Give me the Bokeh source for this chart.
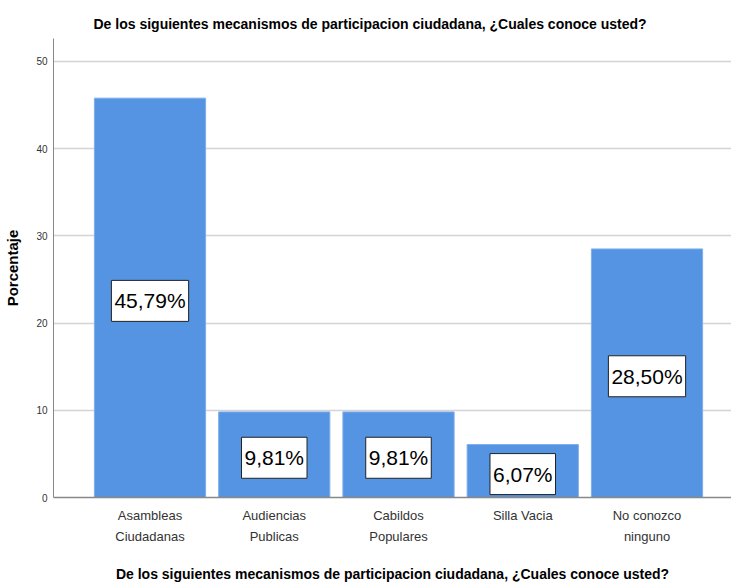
from bokeh.plotting import figure
from bokeh.models import ColumnDataSource, FixedTicker, Range1d
from bokeh.core.properties import value
from bokeh.embed import file_html
from bokeh.resources import INLINE

categories = ["Asambleas\nCiudadanas", "Audiencias\nPublicas", "Cabildos\nPopulares",
              "Silla Vacia", "No conozco\nninguno"]
values = [45.79, 9.81, 9.81, 6.07, 28.50]
label_texts = ["45,79%", "9,81%", "9,81%", "6,07%", "28,50%"]
y_ticks = [0, 10, 20, 30, 40, 50]

FONT = "Liberation Sans"
TITLE = "De los siguientes mecanismos de participacion ciudadana, \u00bfCuales conoce usted?"
xs = list(range(1, len(values) + 1))
src = ColumnDataSource(dict(
    x=xs, top=values, mid=[v / 2 - 0.35 for v in values], txt=label_texts))

p = figure(width=731, height=585, output_backend="svg", toolbar_location=None,
           x_range=Range1d(0.2233, 5.680), y_range=Range1d(0, 52.63),
           min_border_left=53, min_border_right=0, min_border_top=38,
           min_border_bottom=87)
p.outline_line_color = None
p.title.text = TITLE
p.title.text_font = FONT
p.title.text_font_size = "14px"
p.title.text_font_style = "bold"
p.title.align = "left"
p.title.offset = 40
p.title.text_color = "#000000"
p.title.standoff = 14

p.vbar(x="x", top="top", width=0.895, source=src, fill_color="#5594e2",
       line_color="#7eaeea", line_width=1)

p.text(x="x", y="mid", text="txt", source=src, text_align="center",
       text_baseline="middle", text_font=value(FONT), text_font_size="21px",
       text_color="#000000", background_fill_color="white",
       border_line_color="#222222", border_line_width=1, padding=(3, 9))

p.xgrid.grid_line_color = None
p.ygrid.grid_line_color = "#d4d4d4"
p.ygrid.grid_line_width = 1.5
p.ygrid.ticker = FixedTicker(ticks=y_ticks)

p.xaxis.ticker = FixedTicker(ticks=xs)
p.xaxis.major_label_overrides = {x: c for x, c in zip(xs, categories)}
p.xaxis.major_label_text_font = FONT
p.xaxis.major_label_text_font_size = "13px"
p.xaxis.major_label_text_line_height = 1.45
p.xaxis.major_label_text_color = "#333333"
p.xaxis.major_label_standoff = 10
p.xaxis.major_tick_out = 0
p.xaxis.major_tick_in = 0
p.xaxis.major_tick_line_color = None
p.xaxis.minor_tick_line_color = None
p.xaxis.axis_line_color = "#888888"
p.xaxis.axis_line_width = 1.5
p.xaxis.axis_label = TITLE
p.xaxis.axis_label_text_font = FONT
p.xaxis.axis_label_text_font_size = "14px"
p.xaxis.axis_label_text_font_style = "bold"
p.xaxis.axis_label_text_color = "#000000"
p.xaxis.axis_label_standoff = 19

p.yaxis.ticker = FixedTicker(ticks=y_ticks)
p.yaxis.major_label_text_font = FONT
p.yaxis.major_label_text_font_size = "10px"
p.yaxis.major_label_text_color = "#333333"
p.yaxis.major_label_standoff = 6
p.yaxis.major_tick_out = 0
p.yaxis.major_tick_in = 0
p.yaxis.major_tick_line_color = None
p.yaxis.minor_tick_line_color = None
p.yaxis.axis_line_color = "#888888"
p.yaxis.axis_line_width = 1
p.yaxis.axis_label = "Porcentaje"
p.yaxis.axis_label_text_font = FONT
p.yaxis.axis_label_text_font_size = "15px"
p.yaxis.axis_label_text_font_style = "bold"
p.yaxis.axis_label_text_color = "#000000"
p.yaxis.axis_label_standoff = 12

open("out.html", "w").write(file_html(p, INLINE))
